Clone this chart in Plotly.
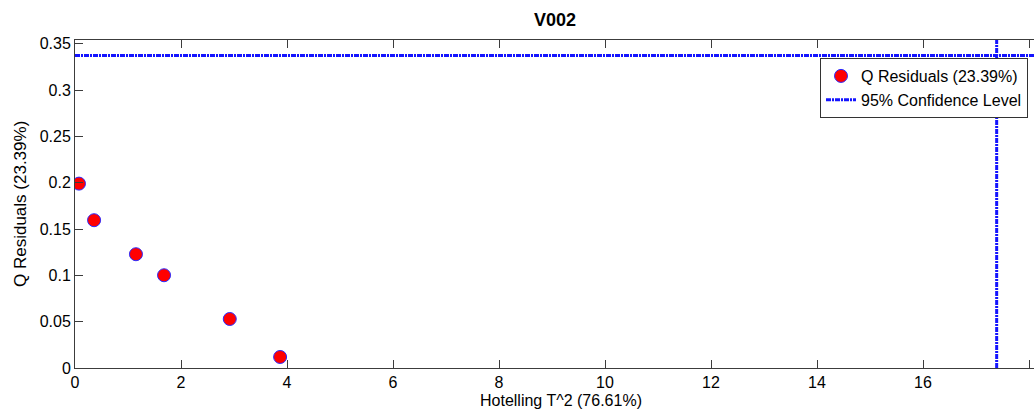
import plotly.graph_objects as go

# Data
hotelling_t2 = [0.075, 0.36, 1.15, 1.68, 2.92, 3.87]
q_residuals = [0.199, 0.1595, 0.1228, 0.1001, 0.0529, 0.0119]
q_limit = 0.3373
t2_limit = 17.39
x_ticks = [0, 2, 4, 6, 8, 10, 12, 14, 16, 18]
y_ticks = [0, 0.05, 0.1, 0.15, 0.2, 0.25, 0.3, 0.35]
y_tick_labels = ["0", "0.05", "0.1", "0.15", "0.2", "0.25", "0.3", "0.35"]

W, H = 1034, 409
L, T, B = 75, 40, 41
PW, PH = W - L, H - T - B
px_per_x = 53.0
x_max = (W - L) / px_per_x
y_max = 0.354

font = "Arial, Liberation Sans, sans-serif"
axcol = "#3c3c3c"
blue = "#1414ff"


def px2paper(xp, yp):
    return (xp - L) / PW, (H - B - yp) / PH


fig = go.Figure()
fig.add_trace(go.Scatter(
    x=[0, x_max * 1.2], y=[q_limit, q_limit], mode="lines",
    line=dict(color=blue, width=3, dash="5px,1px,2px,1px"),
    name="95% Confidence Level", showlegend=True))
fig.add_trace(go.Scatter(
    x=[t2_limit, t2_limit], y=[0, y_max * 1.2], mode="lines",
    line=dict(color=blue, width=3, dash="5px,1px,2px,1px"),
    name="95% Confidence Level", showlegend=False))
fig.add_trace(go.Scatter(
    x=hotelling_t2, y=q_residuals, mode="markers",
    marker=dict(color="#ff0000", size=13, line=dict(color="#2a2aff", width=1)),
    name="Q Residuals (23.39%)"))

lx, ly = px2paper(1028, 58)
tx, ty = px2paper(555, 20)
xlx, xly = px2paper(561, 400)
ylx, yly = px2paper(20, 204)

fig.update_layout(
    width=W, height=H,
    margin=dict(l=L, r=0, t=T, b=B, pad=0, autoexpand=False),
    paper_bgcolor="white", plot_bgcolor="white",
    font=dict(family=font, size=16, color="black"),
    showlegend=True,
    legend=dict(
        x=lx, y=ly, xref="paper", yref="paper",
        xanchor="right", yanchor="top",
        bgcolor="white", bordercolor="#333333", borderwidth=1,
        font=dict(family=font, size=16, color="black"),
        traceorder="reversed", itemwidth=30, tracegroupgap=0,
    ),
    xaxis=dict(
        range=[0, x_max], tickvals=x_ticks, ticks="inside", ticklen=8,
        tickcolor=axcol, showline=True, linecolor=axcol, linewidth=1,
        mirror="ticks", showgrid=False, zeroline=False,
        tickfont=dict(family=font, size=16), automargin=False,
        ticklabelstandoff=0,
    ),
    yaxis=dict(
        range=[0, y_max], tickvals=y_ticks, ticktext=y_tick_labels,
        ticks="inside", ticklen=8, tickcolor=axcol, showline=True,
        linecolor=axcol, linewidth=1, mirror=False, showgrid=False,
        zeroline=False, tickfont=dict(family=font, size=16), automargin=False,
        ticklabelstandoff=0,
    ),
    annotations=[
        dict(text="<b>V002</b>", x=tx, y=ty, xref="paper", yref="paper",
             xanchor="center", yanchor="middle", showarrow=False,
             font=dict(family=font, size=18)),
        dict(text="Hotelling T^2 (76.61%)", x=xlx, y=xly, xref="paper", yref="paper",
             xanchor="center", yanchor="middle", showarrow=False,
             font=dict(family=font, size=16)),
        dict(text="Q Residuals (23.39%)", x=ylx, y=yly, xref="paper", yref="paper",
             xanchor="center", yanchor="middle", textangle=-90, showarrow=False,
             font=dict(family=font, size=17)),
    ],
)

fig.write_html(
    "out.html",
    config={"displayModeBar": False},
    post_script="document.body.style.margin='0';document.body.style.overflow='hidden';",
)
